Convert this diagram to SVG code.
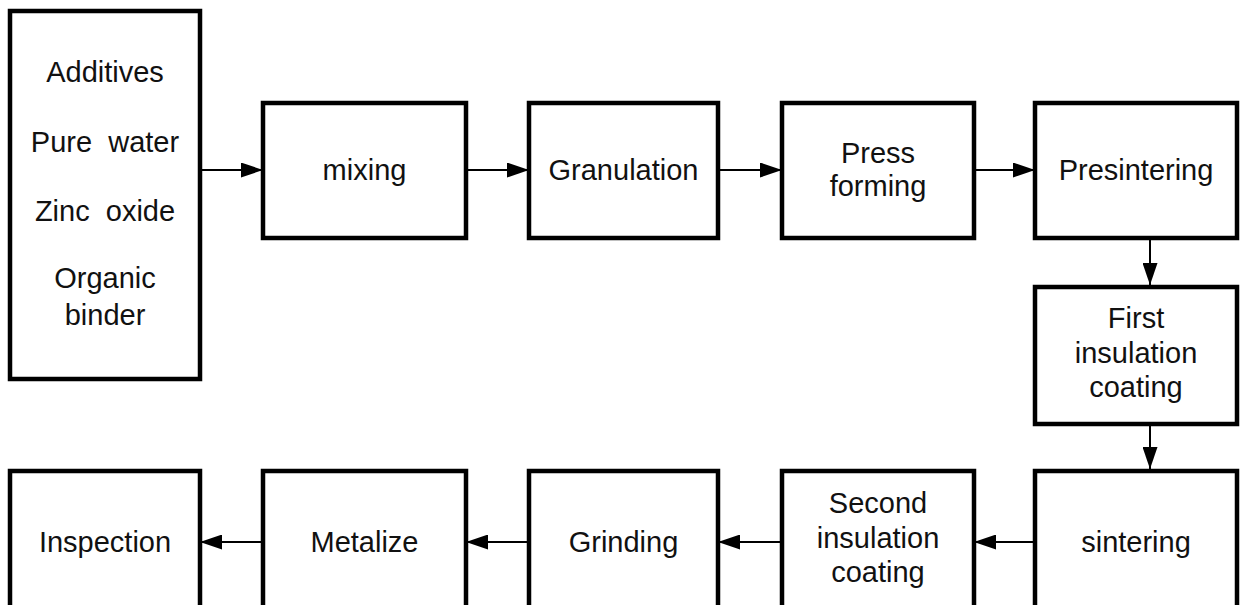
<svg xmlns="http://www.w3.org/2000/svg" width="1240" height="605" viewBox="0 0 1240 605">
<style>
.box{fill:#fff;stroke:#000;stroke-width:4.5}
.lbl{font-family:"Liberation Sans",Arial,sans-serif;font-size:29px;fill:#111;text-anchor:middle;white-space:pre}
.con{stroke:#000;stroke-width:2;fill:none;marker-end:url(#ah)}
</style>
<defs>
<marker id="ah" markerUnits="userSpaceOnUse" markerWidth="22" markerHeight="15" refX="22" refY="7.5" orient="auto">
<path d="M0,0 L22,7.5 L0,15 Z" fill="#000"/>
</marker>
</defs>
<rect width="1240" height="605" fill="#fff"/>
<g id="connectors">
<line class="con" x1="200" y1="170" x2="263" y2="170"/>
<line class="con" x1="466" y1="170" x2="529" y2="170"/>
<line class="con" x1="718" y1="170" x2="782" y2="170"/>
<line class="con" x1="974" y1="170" x2="1035" y2="170"/>
<line class="con" x1="1150" y1="239" x2="1150" y2="285"/>
<line class="con" x1="1150" y1="425" x2="1150" y2="469"/>
<line class="con" x1="1035" y1="542" x2="974" y2="542"/>
<line class="con" x1="782" y1="542" x2="718" y2="542"/>
<line class="con" x1="529" y1="542" x2="466" y2="542"/>
<line class="con" x1="263" y1="542" x2="200" y2="542"/>
</g>
<g id="materials">
<rect class="box" x="10" y="11" width="190" height="368"/>
<text class="lbl" x="105" y="82">Additives</text>
<text class="lbl" x="105" y="152" xml:space="preserve">Pure  water</text>
<text class="lbl" x="105" y="221" xml:space="preserve">Zinc  oxide</text>
<text class="lbl" x="105" y="288">Organic</text>
<text class="lbl" x="105" y="325">binder</text>
</g>
<g id="mixing">
<rect class="box" x="263" y="103" width="203" height="135"/>
<text class="lbl" x="364.5" y="180">mixing</text>
</g>
<g id="granulation">
<rect class="box" x="529" y="103" width="189" height="135"/>
<text class="lbl" x="623.5" y="180">Granulation</text>
</g>
<g id="press-forming">
<rect class="box" x="782" y="103" width="192" height="135"/>
<text class="lbl" x="878" y="163">Press</text>
<text class="lbl" x="878" y="196">forming</text>
</g>
<g id="presintering">
<rect class="box" x="1035" y="103" width="202" height="135"/>
<text class="lbl" x="1136" y="180">Presintering</text>
</g>
<g id="first-insulation">
<rect class="box" x="1035" y="287" width="202" height="137"/>
<text class="lbl" x="1136" y="328">First</text>
<text class="lbl" x="1136" y="363">insulation</text>
<text class="lbl" x="1136" y="397">coating</text>
</g>
<g id="sintering">
<rect class="box" x="1035" y="471" width="202" height="160"/>
<text class="lbl" x="1136" y="552">sintering</text>
</g>
<g id="second-insulation">
<rect class="box" x="782" y="471" width="192" height="160"/>
<text class="lbl" x="878" y="513">Second</text>
<text class="lbl" x="878" y="548">insulation</text>
<text class="lbl" x="878" y="582">coating</text>
</g>
<g id="grinding">
<rect class="box" x="529" y="471" width="189" height="160"/>
<text class="lbl" x="623.5" y="552">Grinding</text>
</g>
<g id="metalize">
<rect class="box" x="263" y="471" width="203" height="160"/>
<text class="lbl" x="364.5" y="552">Metalize</text>
</g>
<g id="inspection">
<rect class="box" x="10" y="471" width="190" height="160"/>
<text class="lbl" x="105" y="552">Inspection</text>
</g>
</svg>
